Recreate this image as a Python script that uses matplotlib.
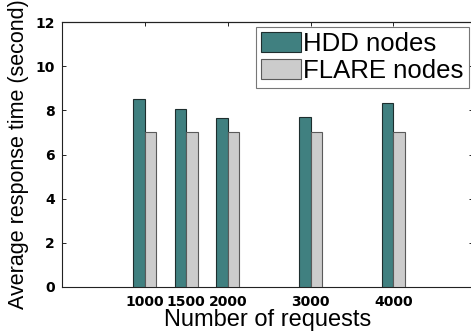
import matplotlib
matplotlib.use("Agg")
import matplotlib.pyplot as plt
import numpy as np

requests = [1000, 1500, 2000, 3000, 4000]
tick_labels = ["1000", "1500", "2000", "3000", "4000"]
hdd = [8.52, 8.08, 7.65, 7.68, 8.32]
flare = [7.03, 7.03, 7.03, 7.03, 7.03]

W, H = 471, 333
fig = plt.figure(figsize=(W / 100, H / 100), dpi=100)
ax = fig.add_axes([62 / W, 46 / H, 411 / W, 265 / H])

bw = 140
x = np.array(requests, dtype=float)
ax.bar(x - bw / 2, hdd, width=bw, color="#408080", edgecolor="#1e2e2e",
       linewidth=0.8, label="HDD nodes", zorder=3)
ax.bar(x + bw / 2, flare, width=bw, color="#cccccc", edgecolor="#5a5a5a",
       linewidth=0.8, label="FLARE nodes", zorder=3)

ax.set_xlim(0, 4960)
ax.set_ylim(0, 12)
ax.set_xticks(requests)
ax.set_xticklabels(tick_labels, fontfamily="DejaVu Sans", fontweight="bold", fontsize=10)
ax.set_yticks(range(0, 13, 2))
ax.set_yticklabels([str(v) for v in range(0, 13, 2)], fontfamily="DejaVu Sans",
                   fontweight="bold", fontsize=10)
ax.tick_params(axis="x", length=0, pad=6)
ax.tick_params(axis="y", direction="in", length=3, width=0.6, pad=5, right=True)

top = ax.secondary_xaxis("top")
top.set_xticks([1000, 2000, 3000, 4000])
top.tick_params(direction="in", length=3, width=0.6, labeltop=False)

for s in ax.spines.values():
    s.set_linewidth(0.8)
    s.set_color("#222222")

ax.set_xlabel("Number of requests", fontfamily="Liberation Sans", fontsize=17, labelpad=0)
ax.set_ylabel("Average response time (second)", fontfamily="Liberation Sans", fontsize=15.5,
              labelpad=5)

leg = ax.legend(loc="upper right", bbox_to_anchor=((469 - 62) / 411, 1 - 5 / 265),
                prop={"family": "Liberation Sans", "size": 18.5},
                handlelength=1.55, handleheight=0.8, handletextpad=0.1,
                labelspacing=0.1, borderpad=0.2, borderaxespad=0,
                fancybox=False, framealpha=1, edgecolor="#777777")
leg.get_frame().set_linewidth(0.8)

fig.savefig("out.png", dpi=100)
